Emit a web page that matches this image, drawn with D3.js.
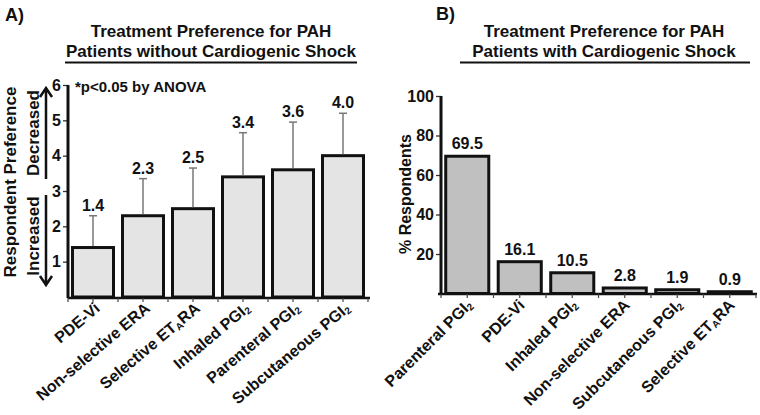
<!DOCTYPE html>
<html><head><meta charset="utf-8">
<script src="https://cdn.jsdelivr.net/npm/d3@7/dist/d3.min.js"></script>
<style>
html,body{margin:0;padding:0;background:#fff;}
svg{display:block;font-family:"Liberation Sans",Arial,sans-serif;}
</style></head><body>
<svg id="chart" width="760" height="415"></svg>
<script>
// ---- data ----
const catsA = ["PDE-Vi","Non-selective ERA","Selective ET_ARA","Inhaled PGI_2","Parenteral PGI_2","Subcutaneous PGI_2"];
const meanA = [1.4, 2.3, 2.5, 3.4, 3.6, 4.0];
const sdA   = [0.9, 1.05, 1.15, 1.25, 1.35, 1.2];
const ticksA = [1, 2, 3, 4, 5, 6];

const catsB = ["Parenteral PGI_2","PDE-Vi","Inhaled PGI_2","Non-selective ERA","Subcutaneous PGI_2","Selective ET_ARA"];
const pctB  = [69.5, 16.1, 10.5, 2.8, 1.9, 0.9];
const ticksB = [20, 40, 60, 80, 100];

const svg = d3.select("#chart");
const ink = "#111";

function richText(sel, str) {
  const parts = str.split(/_(.)/);
  parts.forEach((p, i) => {
    if (!p) return;
    if (i % 2 === 1) {
      sel.append("tspan").attr("font-size", "0.62em").attr("baseline-shift", "-22%").text(p);
    } else {
      sel.append("tspan").text(p);
    }
  });
}

function titleBlock(cx, lines, x1, x2) {
  const t = svg.append("text").attr("text-anchor", "middle").attr("font-weight", "bold")
    .attr("font-size", 17).attr("fill", ink);
  t.append("tspan").attr("x", cx).attr("y", 37).text(lines[0]);
  t.append("tspan").attr("x", cx).attr("y", 56.5).text(lines[1]);
  svg.append("line").attr("x1", x1).attr("x2", x2).attr("y1", 62.5).attr("y2", 62.5)
    .attr("stroke", ink).attr("stroke-width", 2.2);
}

function xAxis(x, y0, xStart, xEnd, rot, offX, offY, cats) {
  const g = svg.append("g");
  g.append("line").attr("x1", xStart).attr("x2", xEnd).attr("y1", y0).attr("y2", y0)
    .attr("stroke", ink).attr("stroke-width", 2.5);
  const half = x.step() * x.paddingInner() / 2;
  const bounds = cats.map(d => x(d) - half).concat([x(cats[cats.length - 1]) + x.bandwidth() + half]);
  g.selectAll(".bt").data(bounds).join("line")
    .attr("x1", d => d).attr("x2", d => d).attr("y1", y0).attr("y2", y0 + 4)
    .attr("stroke", "#444").attr("stroke-width", 1.2);
  g.selectAll(".ct").data(cats).join("line")
    .attr("x1", d => x(d) + x.bandwidth() / 2).attr("x2", d => x(d) + x.bandwidth() / 2)
    .attr("y1", y0).attr("y2", y0 + 4).attr("stroke", "#444").attr("stroke-width", 1.2);
  g.selectAll(".lbl").data(cats).join("text")
    .attr("text-anchor", "end").attr("font-weight", "bold").attr("font-size", 16).attr("fill", ink)
    .attr("transform", d => `translate(${x(d) + x.bandwidth() / 2 + offX},${y0 + offY}) rotate(${rot})`)
    .each(function (d) { richText(d3.select(this), d); });
}

function yAxis(y, x0, ticks, domainTop) {
  const g = svg.append("g").attr("transform", `translate(${x0},0)`)
    .call(d3.axisLeft(y).tickValues(ticks).tickSize(5).tickSizeOuter(0).tickPadding(2).tickFormat(d3.format("d")));
  g.select(".domain").remove();
  g.append("line").attr("x1", 0).attr("x2", 0).attr("y1", y(0) + 1).attr("y2", domainTop)
    .attr("stroke", ink).attr("stroke-width", 3);
  g.selectAll(".tick line").attr("stroke", "#333").attr("stroke-width", 1.3);
  g.selectAll(".tick text").attr("font-size", 16).attr("font-weight", "bold")
    .attr("font-family", "'Liberation Sans',Arial,sans-serif").attr("fill", ink);
  return g;
}

// ---------------- Panel A ----------------
svg.append("text").attr("x", 5).attr("y", 21).attr("font-size", 18).attr("font-weight", "bold").attr("fill", ink).text("A)");
titleBlock(211, ["Treatment Preference for PAH", "Patients without Cardiogenic Shock"], 65, 357);

const xA = d3.scaleBand().domain(catsA).range([68, 368]).paddingInner(0.18).paddingOuter(0.09);
const yA = d3.scaleLinear().domain([0, 6]).range([297, 85]);

yAxis(yA, 68, ticksA, yA(6));

svg.append("g").selectAll("rect").data(catsA).join("rect")
  .attr("x", d => xA(d)).attr("width", xA.bandwidth())
  .attr("y", (d, i) => yA(meanA[i])).attr("height", (d, i) => yA(0) - yA(meanA[i]))
  .attr("fill", "#e4e4e4").attr("stroke", ink).attr("stroke-width", 3);

const eb = svg.append("g").attr("stroke", "#777").attr("stroke-width", 1.5);
catsA.forEach((d, i) => {
  const cx = xA(d) + xA.bandwidth() / 2;
  eb.append("line").attr("x1", cx).attr("x2", cx).attr("y1", yA(meanA[i]) - 1.5).attr("y2", yA(meanA[i] + sdA[i]));
  eb.append("line").attr("x1", cx - 4).attr("x2", cx + 4).attr("y1", yA(meanA[i] + sdA[i])).attr("y2", yA(meanA[i] + sdA[i]));
});

svg.append("g").selectAll("text").data(catsA).join("text")
  .attr("x", d => xA(d) + xA.bandwidth() / 2)
  .attr("y", (d, i) => yA(meanA[i] + sdA[i]) - 5)
  .attr("text-anchor", "middle").attr("font-size", 16).attr("font-weight", "bold").attr("fill", ink)
  .text((d, i) => d3.format(".1f")(meanA[i]));

xAxis(xA, 298, 68, 370, -40, 8, 12, catsA);

svg.append("text").attr("x", 75).attr("y", 92).attr("font-size", 15).attr("font-weight", "bold").attr("fill", ink)
  .text("*p<0.05 by ANOVA");

// y label A
svg.append("text").attr("transform", "translate(16,182) rotate(-90)").attr("text-anchor", "middle")
  .attr("font-size", 17).attr("font-weight", "bold").attr("fill", ink).text("Respondent Preference");
svg.append("text").attr("transform", "translate(39,133) rotate(-90)").attr("text-anchor", "middle")
  .attr("font-size", 17).attr("font-weight", "bold").attr("fill", ink).text("Decreased");
svg.append("text").attr("transform", "translate(39,236) rotate(-90)").attr("text-anchor", "middle")
  .attr("font-size", 17).attr("font-weight", "bold").attr("fill", ink).text("Increased");
const arr = svg.append("g").attr("stroke", ink).attr("stroke-width", 2.5).attr("fill", "none");
arr.append("path").attr("d", "M46,179 L46,88 M40,97 L46,88 L52,97");
arr.append("path").attr("d", "M46,195 L46,285 M40,276 L46,285 L52,276");

// ---------------- Panel B ----------------
svg.append("text").attr("x", 436).attr("y", 20).attr("font-size", 18).attr("font-weight", "bold").attr("fill", ink).text("B)");
titleBlock(604, ["Treatment Preference for PAH", "Patients with Cardiogenic Shock"], 460, 750);

const xB = d3.scaleBand().domain(catsB).range([441, 756]).paddingInner(0.18).paddingOuter(0.09);
const yB = d3.scaleLinear().domain([0, 100]).range([293.5, 96]);

yAxis(yB, 441, ticksB, yB(100));

svg.append("g").selectAll("rect").data(catsB).join("rect")
  .attr("x", d => xB(d)).attr("width", xB.bandwidth())
  .attr("y", (d, i) => yB(pctB[i])).attr("height", (d, i) => yB(0) - yB(pctB[i]))
  .attr("fill", "#c0c0c0").attr("stroke", ink).attr("stroke-width", 3);

svg.append("g").selectAll("text").data(catsB).join("text")
  .attr("x", d => xB(d) + xB.bandwidth() / 2)
  .attr("y", (d, i) => yB(pctB[i]) - 7)
  .attr("text-anchor", "middle").attr("font-size", 16).attr("font-weight", "bold").attr("fill", ink)
  .text((d, i) => d3.format(".1f")(pctB[i]));

xAxis(xB, 294, 438, 757, -45, 6, 12, catsB);

svg.append("text").attr("transform", "translate(411,194) rotate(-90)").attr("text-anchor", "middle")
  .attr("font-size", 16).attr("font-weight", "bold").attr("fill", ink).text("% Respondents");
</script>
</body></html>
